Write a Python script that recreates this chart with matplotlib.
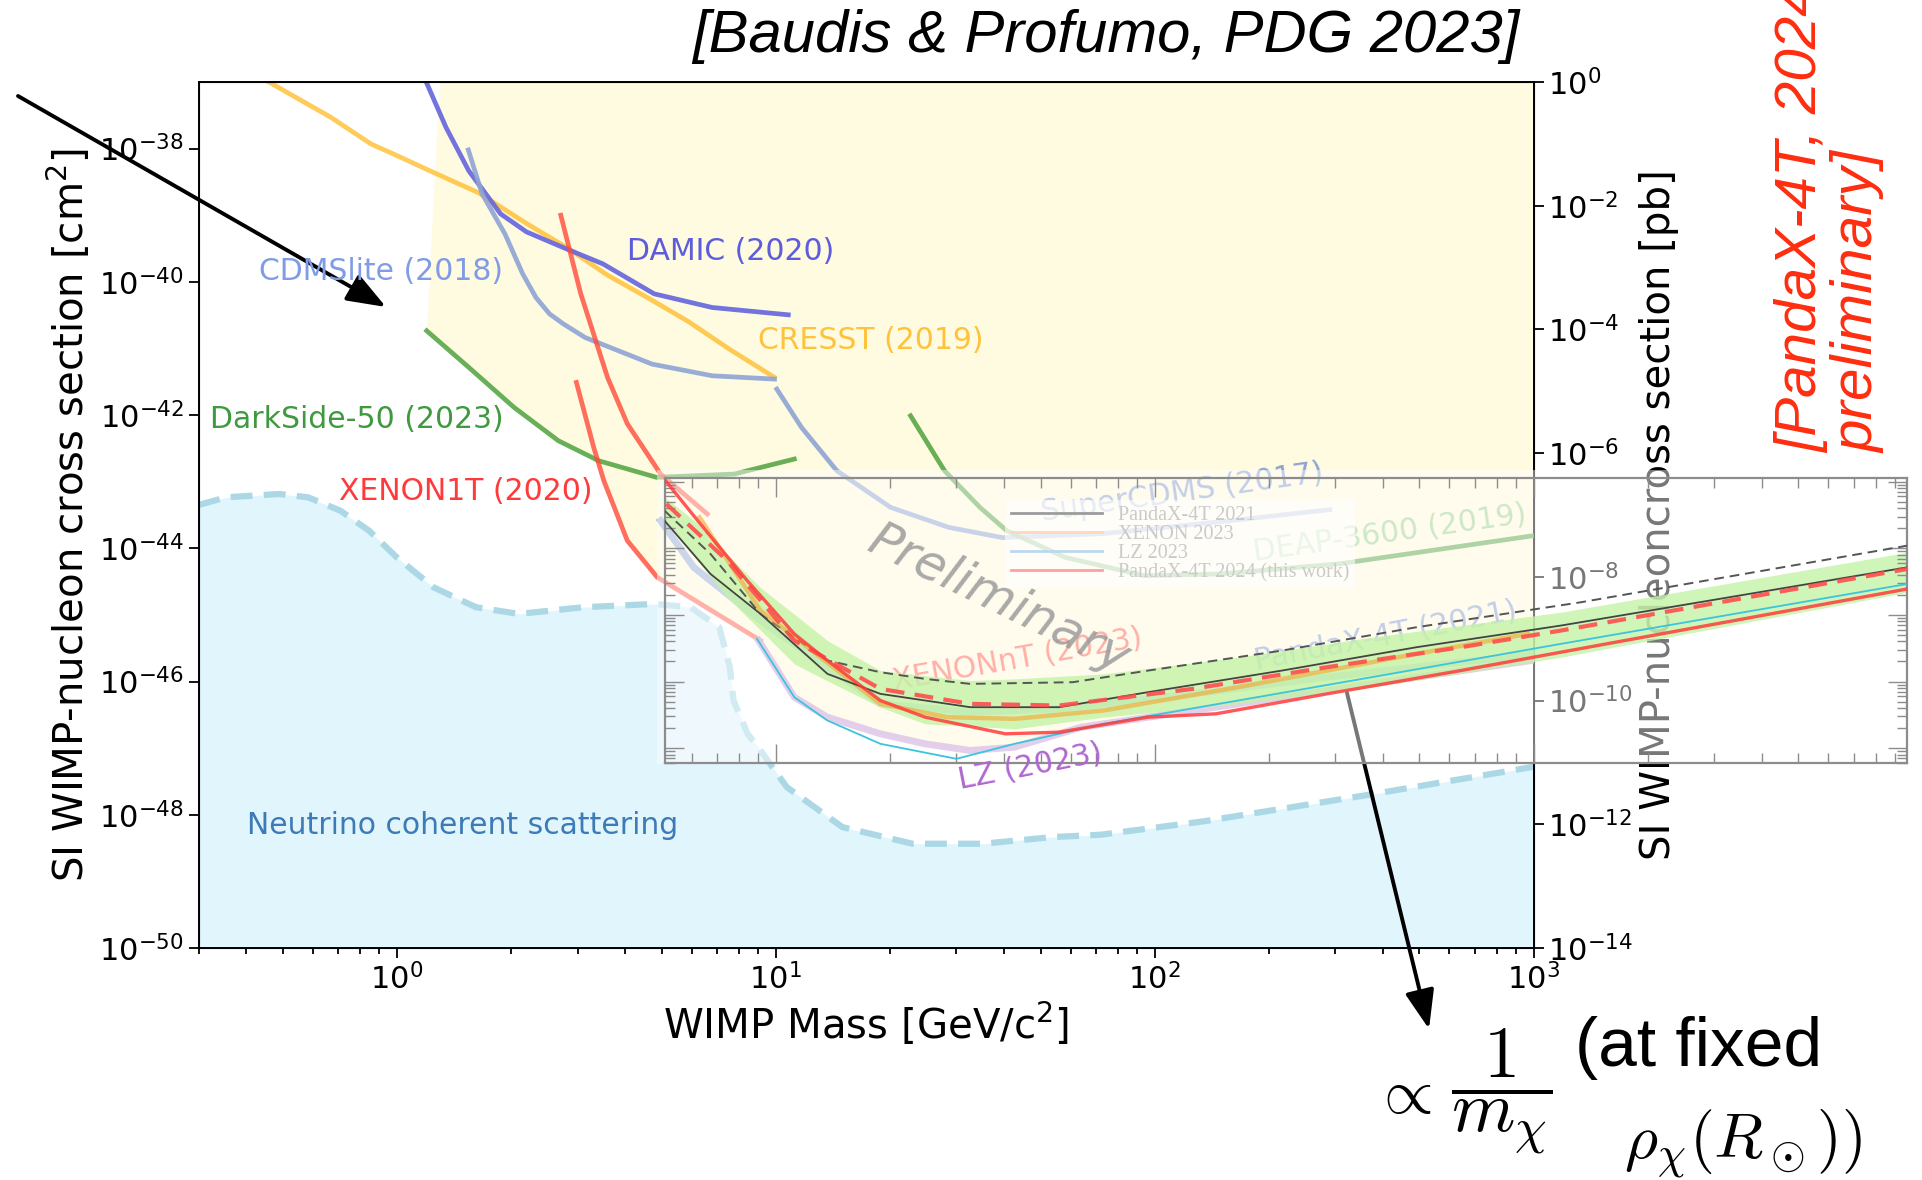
import numpy as np
import matplotlib.pyplot as plt
from matplotlib.patches import Rectangle, FancyArrowPatch
from matplotlib.ticker import NullLocator, LogLocator

W, H = 1922, 1180


def fx(x):
    return x / W


def fy(y):
    return 1 - y / H


def sig(exps):
    return 10.0 ** np.array(exps)


# ---- main-plot limits (WIMP mass in GeV, log10 of cross section in cm^2) ----
cresst_m = [0.45, 0.67, 0.855, 0.98, 1.22, 1.64, 2.21, 2.82, 3.6, 4.6, 5.9, 7.5, 9.9]
cresst_ls = [-36.97, -37.53, -37.93, -38.08, -38.33, -38.66, -39.13, -39.49, -39.90, -40.24, -40.60, -41.00, -41.43]

damic_m = [1.19, 1.35, 1.55, 1.88, 2.2, 2.75, 3.5, 4.78, 6.8, 10.8]
damic_ls = [-36.97, -37.685, -38.335, -38.98, -39.25, -39.485, -39.73, -40.18, -40.385, -40.495]

cdmslite_m = [1.545, 1.68, 1.93, 2.15, 2.33, 2.53, 2.75, 3.14, 4.72, 6.8, 9.93]
cdmslite_ls = [-38.02, -38.68, -39.28, -39.88, -40.235, -40.48, -40.63, -40.835, -41.235, -41.41, -41.46]

supercdms_m = [10.07, 11.7, 14.5, 20.1, 28.6, 39.7, 73, 150, 290]
supercdms_ls = [-41.61, -42.185, -42.835, -43.385, -43.685, -43.84, -43.78, -43.6, -43.42]

darkside_m = [1.2, 1.55, 2.04, 2.67, 3.41, 4.85, 7.78, 11.2]
darkside_ls = [-40.735, -41.285, -41.885, -42.385, -42.685, -42.935, -42.885, -42.66]

deap_m = [22.7, 27.9, 34.6, 40.7, 58, 94, 149, 310, 1000]
deap_ls = [-42.01, -42.835, -43.385, -43.735, -44.135, -44.41, -44.385, -44.23, -43.81]

xenon1t_a_m = [2.71, 3.06, 3.6, 4.06, 4.97, 6.6]
xenon1t_a_ls = [-39.0, -40.18, -41.435, -42.13, -42.885, -43.485]

xenon1t_b_m = [2.98, 3.31, 3.52, 4.06, 4.87, 9.12]
xenon1t_b_ls = [-41.51, -42.485, -42.985, -43.885, -44.435, -45.385]

lz_m = [9.02, 11.2, 13.7, 18.9, 24.8, 32.6, 42.7, 64.1, 96.3, 166, 285, 491, 1000]
lz_ls = [-45.385, -46.235, -46.535, -46.785, -46.935, -47.035, -46.985, -46.685, -46.535, -46.335, -46.135, -45.935, -45.68]

pandax21_m = [4.97, 6.08, 9.12, 13.7, 18.9, 32.6, 56, 126, 285, 845, 1000]
pandax21_ls = [-43.585, -44.285, -45.085, -45.785, -46.335, -46.46, -46.41, -46.185, -45.935, -45.635, -45.56]

fog_m = [0.3, 0.354, 0.49, 0.584, 0.71, 0.845, 1.0, 1.25, 1.62, 2.10, 3.1, 4.8, 5.96, 7.1, 7.57,
         7.74, 8.43, 8.99, 10.7, 15.0, 23, 35.1, 53.8, 72, 136, 354, 1000]
fog_ls = [-43.35, -43.235, -43.185, -43.235, -43.435, -43.735, -44.135, -44.585, -44.885, -44.985,
          -44.885, -44.835, -44.885, -45.185, -45.785, -46.285, -46.785, -46.985, -47.585, -48.185,
          -48.435, -48.435, -48.335, -48.3, -48.095, -47.715, -47.28]

# excluded (yellow) region outline
excl_m = [1.30, 1.2, 1.55, 2.04, 2.67, 3.38, 3.52, 4.06, 4.87, 9.02, 11.2, 13.7, 18.9, 24.8, 32.6,
          42.7, 64.1, 96.3, 166, 285, 491, 1000, 1000]
excl_ls = [-37.0, -40.735, -41.285, -41.885, -42.385, -42.68, -42.985, -43.885, -44.435, -45.385,
           -46.235, -46.535, -46.785, -46.935, -47.035, -46.985, -46.685, -46.535, -46.335, -46.135,
           -45.935, -45.68, -37.0]

# ---- PandaX-4T inset ----
band_m = [5.1, 6.1, 7.45, 9.1, 11.2, 13.7, 18.9, 24.8, 32.5, 42.7, 73.3, 166, 374, 1180, 9700]
band_hi = [-43.235, -43.585, -44.09, -44.585, -44.99, -45.385, -45.835, -45.91, -45.985, -45.96,
           -45.885, -45.635, -45.335, -44.96, -44.06]
band_lo = [-43.585, -44.13, -44.735, -45.225, -45.735, -45.99, -46.385, -46.635, -46.67, -46.71,
           -46.535, -46.335, -46.085, -45.635, -44.66]

sens_m = [5.09, 6.73, 9.12, 13.7, 18.9, 24.8, 32.6, 60.8, 96.3, 217, 491, 1333, 9700]
sens_ls = [-43.435, -44.085, -44.985, -45.685, -45.86, -45.96, -46.035, -46.01, -45.835, -45.535,
           -45.185, -44.81, -43.96]

median_m = [5.15, 7.45, 11.2, 18.9, 32.6, 56, 126, 285, 643, 1180, 9700]
median_ls = [-43.335, -44.185, -45.385, -46.11, -46.335, -46.36, -46.11, -45.785, -45.485, -45.235, -44.31]

p4t2021_m = [5.09, 6.73, 9.12, 13.7, 18.9, 32.6, 56, 96, 217, 491, 1180, 9700]
p4t2021_ls = [-43.585, -44.385, -44.985, -45.885, -46.185, -46.385, -46.385, -46.16, -45.835,
              -45.485, -45.16, -44.285]

xenon23_m = [6.3, 9.12, 18.9, 28.4, 42.7, 73.3, 166, 491, 966]
xenon23_ls = [-43.535, -44.935, -46.335, -46.535, -46.56, -46.435, -46.085, -45.585, -45.285]

lz23_m = [8.93, 11.2, 13.7, 18.9, 30, 42.7, 73.3, 166, 374, 1180, 9700]
lz23_ls = [-45.36, -46.235, -46.585, -46.935, -47.16, -46.935, -46.635, -46.285, -45.935, -45.435, -44.535]

p4t2024_m = [5.12, 6.33, 8.41, 11.2, 13.7, 18.9, 24.8, 40.4, 56, 96, 145, 285, 643, 1180, 9700]
p4t2024_ls = [-42.985, -43.635, -44.485, -45.285, -45.685, -46.285, -46.535, -46.785, -46.76,
              -46.535, -46.485, -46.185, -45.835, -45.56, -44.61]

legend_labels = ["PandaX-4T 2021", "XENON 2023", "LZ 2023", "PandaX-4T 2024 (this work)"]

yticks_cm = [1e-50, 1e-48, 1e-46, 1e-44, 1e-42, 1e-40, 1e-38]
yticks_pb = [1e-14, 1e-12, 1e-10, 1e-8, 1e-6, 1e-4, 1e-2, 1e0]

fig = plt.figure(figsize=(W / 100, H / 100), dpi=100)

L, R, T, B = 198.6, 1533.5, 82.0, 948.0
ax = fig.add_axes([fx(L), fy(B), (R - L) / W, (B - T) / H])
ax.set_xscale('log')
ax.set_yscale('log')
ax.set_xlim(0.3, 1000)
ax.set_ylim(1e-50, 1e-37)

ax.fill(excl_m, sig(excl_ls), color='#fffbe0', lw=0, zorder=1)
ax.fill_between(fog_m, 1e-50, sig(fog_ls), color='#e1f5fd', lw=0, zorder=1.2)
ax.plot(fog_m, sig(fog_ls), color='#acd8e6', lw=4.5, dashes=(3.5, 1.8), zorder=2)

lw = 3.4
ax.plot(cresst_m, sig(cresst_ls), color='#ffc23c', lw=lw, alpha=0.85, zorder=3)
ax.plot(damic_m, sig(damic_ls), color='#6464de', lw=lw, alpha=0.9, zorder=3)
ax.plot(cdmslite_m, sig(cdmslite_ls), color='#8ea4d4', lw=lw, alpha=0.9, zorder=3)
ax.plot(supercdms_m, sig(supercdms_ls), color='#8ea4d4', lw=lw, alpha=0.9, zorder=3)
ax.plot(darkside_m, sig(darkside_ls), color='#4ea23e', lw=lw, alpha=0.85, zorder=3)
ax.plot(deap_m, sig(deap_ls), color='#4ea23e', lw=lw, alpha=0.85, zorder=3)
ax.plot(xenon1t_a_m, sig(xenon1t_a_ls), color='#ff4a3a', lw=lw, alpha=0.8, zorder=3)
ax.plot(xenon1t_b_m, sig(xenon1t_b_ls), color='#ff4a3a', lw=lw, alpha=0.8, zorder=3)
ax.plot(pandax21_m, sig(pandax21_ls), color='#94aad8', lw=5, alpha=0.9, zorder=3)
ax.plot(lz_m, sig(lz_ls), color='#c79ad8', lw=5, alpha=0.9, zorder=3)

ax.set_yticks(yticks_cm)
ax.yaxis.set_minor_locator(NullLocator())
ax.xaxis.set_major_locator(LogLocator(base=10))
ax.tick_params(which='both', direction='out', labelsize=22, width=1.3)
ax.tick_params(which='major', length=7)
ax.tick_params(which='minor', length=4)
for s in ax.spines.values():
    s.set_linewidth(1.4)
ax.set_xlabel('WIMP Mass [GeV/c$^2$]', fontsize=29)
ax.set_ylabel('SI WIMP-nucleon cross section [cm$^2$]', fontsize=29)

ax2 = ax.twinx()
ax2.set_yscale('log')
ax2.set_ylim(1e-14, 1e0)
ax2.set_yticks(yticks_pb)
ax2.yaxis.set_minor_locator(NullLocator())
ax2.tick_params(direction='out', labelsize=22, length=7, width=1.3)
ax2.set_ylabel('SI WIMP-nucleoncross section [pb]', fontsize=29)

# curve labels (below the translucent inset)
lab = dict(fontsize=21.5, ha='left', va='center', zorder=0.8)
fig.text(fx(259), fy(271), 'CDMSlite (2018)', color='#7f9ce4', **lab)
fig.text(fx(627), fy(251), 'DAMIC (2020)', color='#5c5cdc', **lab)
fig.text(fx(758), fy(341), 'CRESST (2019)', color='#ffc23c', **lab)
fig.text(fx(210), fy(419), 'DarkSide-50 (2023)', color='#3f9a3f', **lab)
fig.text(fx(339), fy(491), 'XENON1T (2020)', color='#ff3a3a', **lab)
fig.text(fx(247), fy(825), 'Neutrino coherent scattering', color='#3d7ab8', **lab)
rot = dict(fontsize=21.5, ha='center', va='center', rotation_mode='anchor')
fig.text(fx(1182), fy(493), 'SuperCDMS (2017)', color='#8ea4d4', rotation=8, zorder=0.8, **rot)
fig.text(fx(1390), fy(533), 'DEAP-3600 (2019)', color='#a4d496', rotation=8, zorder=0.8, **rot)
fig.text(fx(1017), fy(660), 'XENONnT (2023)', color='#ff6a5a', rotation=10, zorder=0.8, **rot)
fig.text(fx(1386), fy(636), 'PandaX-4T (2021)', color='#8ea4d4', rotation=11, zorder=0.8, **rot)
fig.text(fx(1030), fy(767), 'LZ (2023)', color='#b066d0', rotation=11, zorder=2.5, **rot)

# arrows
arrow_style = '-|>,head_length=0.85,head_width=0.32'
fig.add_artist(FancyArrowPatch((fx(18), fy(96)), (fx(386), fy(307)), transform=fig.transFigure,
                               arrowstyle=arrow_style, mutation_scale=28, lw=2.8, color='black',
                               shrinkA=0, shrinkB=0, zorder=0.6))
fig.add_artist(FancyArrowPatch((fx(1347), fy(693)), (fx(1429), fy(1029)), transform=fig.transFigure,
                               arrowstyle=arrow_style, mutation_scale=28, lw=2.8, color='black',
                               shrinkA=0, shrinkB=0, zorder=0.6))

# translucent backing of the pasted inset
fig.add_artist(Rectangle((fx(657), fy(764)), (1910 - 657) / W, (764 - 470) / H,
                         transform=fig.transFigure, facecolor='white', alpha=0.47, lw=0, zorder=1))

# inset axes sharing the main mass / cross-section scale
IL, IR, IT, IB = 664.6, 1906.7, 478.3, 763.3
axin = fig.add_axes([fx(IL), fy(IB), (IR - IL) / W, (IB - IT) / H], zorder=2)
axin.set_facecolor('none')
axin.set_xscale('log')
axin.set_yscale('log')
inv = ax.transData.inverted()
x0, y0 = inv.transform((IL, H - IB))
x1, y1 = inv.transform((IR, H - IT))
axin.set_xlim(x0, x1)
axin.set_ylim(y0, y1)

axin.fill_between(band_m, sig(band_lo), sig(band_hi), color='#c3f3a6', alpha=0.8, lw=0, zorder=1)
axin.plot(sens_m, sig(sens_ls), color='#555555', lw=1.4, dashes=(5, 3), zorder=3)
axin.plot(xenon23_m, sig(xenon23_ls), color='#f5a530', lw=3.2, alpha=0.6, zorder=3)
axin.plot(p4t2021_m, sig(p4t2021_ls), color='#444444', lw=1.3, zorder=3)
axin.plot(lz23_m, sig(lz23_ls), color='#3cc4dc', lw=1.3, zorder=3)
axin.plot(median_m, sig(median_ls), color='#ff4d4d', lw=3, dashes=(4.5, 2.5), alpha=0.9, zorder=3)
axin.plot(p4t2024_m, sig(p4t2024_ls), color='#ff3b3b', lw=2.4, alpha=0.85, zorder=3)

hl = [axin.plot([], [], color=c, lw=2)[0] for c in ['#9c9c9c', '#ffd6c0', '#bcd8f0', '#ffa0a0']]
leg = axin.legend(hl, legend_labels, loc='upper left', bbox_to_anchor=(0.274, 0.925),
                  borderaxespad=0, frameon=True, framealpha=0.6, edgecolor='none',
                  prop={'family': 'Liberation Serif', 'size': 14.5}, labelspacing=0.0,
                  handlelength=4.5, labelcolor='#cacaca', borderpad=0.3)
leg.set_zorder(5)

axin.text(999, 580, 'Preliminary', transform=None, fontsize=36, color='#9a9a9a', alpha=0.85,
          rotation=-26, ha='center', va='center', rotation_mode='anchor', style='italic')

for s in axin.spines.values():
    s.set_color('#8c8c8c')
    s.set_linewidth(1.6)
axin.tick_params(which='both', direction='in', top=True, right=True, colors='#8c8c8c',
                 labelbottom=False, labelleft=False, width=1)
axin.tick_params(which='major', length=14)
axin.tick_params(which='minor', length=7)

# annotations around the plot
fig.text(fx(1520), fy(37), '[Baudis & Profumo, PDG 2023]', fontsize=43, style='italic',
         family='Liberation Sans', ha='right', va='center')
fig.text(fx(1830), fy(453), '[PandaX-4T, 2024\npreliminary]', fontsize=42, style='italic',
         family='Liberation Sans', color='#ff2d0f', rotation=90, ha='center', va='bottom',
         multialignment='left', linespacing=1.05)
fig.text(fx(1372), fy(1095), r'$\propto$', fontsize=46, math_fontfamily='cm',
         ha='left', va='center')
fig.text(fx(1502), fy(1092), r'$\dfrac{1}{m_\chi}$', fontsize=52, math_fontfamily='cm',
         ha='center', va='center')
fig.text(fx(1575), fy(1048), '(at fixed', fontsize=50, family='Liberation Sans',
         ha='left', va='center')
fig.text(fx(1624), fy(1144), r'$\rho_\chi(R_\odot))$', fontsize=46, math_fontfamily='cm',
         ha='left', va='center')

fig.savefig('out.png', dpi=100)
